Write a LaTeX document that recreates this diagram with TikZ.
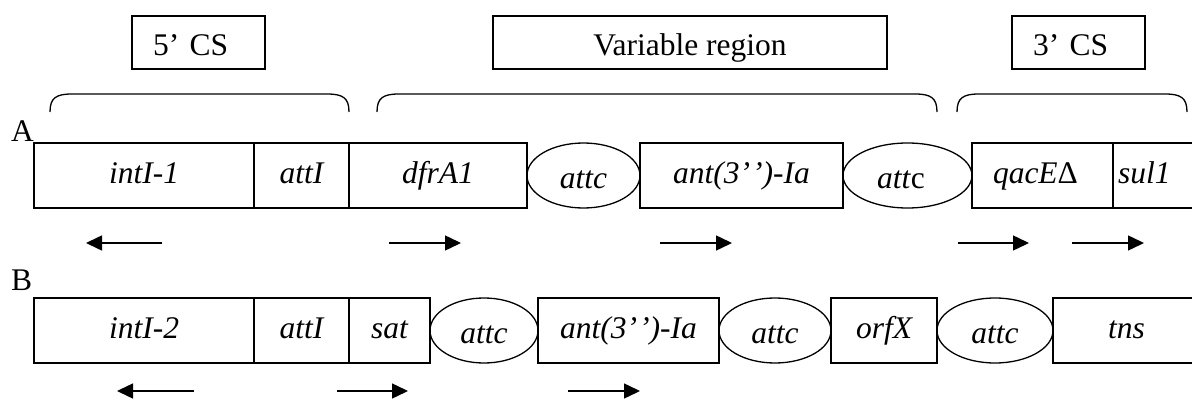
\documentclass[tikz,border=0pt]{standalone}
\usepackage{fontspec}
\setmainfont{Liberation Serif}
\usetikzlibrary{arrows.meta,shapes.geometric}
\tikzset{
  lbl/.style={font=\fontsize{31.5}{37}\selectfont},
  part/.style={draw, line width=1.3pt, inner sep=0pt, minimum height=65pt, text depth=0pt},
  gene/.style={part, rectangle, text height=15pt, font=\fontsize{31.5}{37}\selectfont\itshape},
  site/.style={part, ellipse, text height=26pt, font=\fontsize{31.5}{37}\selectfont\itshape},
  region/.style={lbl, draw, line width=1.3pt, rectangle, inner sep=0pt,
                 minimum height=53pt, text height=26pt, text depth=0pt},
  brace/.style={line width=1.3pt},
  dir/.style={line width=1.5pt, -{Triangle[length=16pt,width=15pt]}},
}
\begin{document}
\begin{tikzpicture}[x=1pt,y=-1pt]
\useasboundingbox (0,0) rectangle (1192,401);
\clip (0,0) rectangle (1192,401);

% segment headers
\node[region, inner xsep=21pt, text width=91pt, align=left] (cs5) at (198.5,42.5) {5’ CS};
\node[region, minimum width=394pt] (var) at (690,42.5) {Variable region};
\node[region, inner xsep=21pt, text width=91pt, align=left] (cs3) at (1078.5,42.5) {3’ CS};

% brackets spanning each segment
\foreach \l/\r in {50/349, 377/937, 957/1187}
  \draw[brace] (\l,112) .. controls (\l,98) and (\l+6,94) .. (\l+22,94)
    -- (\r-22,94) .. controls (\r-6,94) and (\r,98) .. (\r,112);

% row labels
\node[lbl, anchor=base west, inner sep=0pt] (labA) at (11,142) {A};
\node[lbl, anchor=base west, inner sep=0pt] (labB) at (11,290) {B};

% class 1 integron
\node[gene, minimum width=220pt] (intA) at (144,175.5) {intI-1};
\node[gene, minimum width=95pt] (attIA) at (301.5,175.5) {attI};
\node[gene, minimum width=178pt] (dfr) at (438,175.5) {dfrA1};
\node[site, minimum width=113pt] (attcA1) at (583.5,175.5) {attc};
\node[gene, minimum width=203pt] (antA) at (741.5,175.5) {ant(3’\kern2pt’)-Ia};
\node[site, minimum width=129pt, text width=61pt, align=left] (attcA2) at (907.5,175.5) {att\textup{c}};
\node[gene, inner xsep=21pt, text width=99pt, align=left] (qac) at (1042.5,175.5) {qacE{\upshape Δ}};
\node[gene, inner xsep=5pt, text width=77pt, align=left] (sul) at (1156.5,175.5) {sul1};

% class 2 integron
\node[gene, minimum width=220pt] (intB) at (144,330.5) {intI-2};
\node[gene, minimum width=95pt] (attIB) at (301.5,330.5) {attI};
\node[gene, minimum width=81pt] (sat) at (389.5,330.5) {sat};
\node[site, minimum width=108pt] (attcB1) at (484,330.5) {attc};
\node[gene, minimum width=181pt] (antB) at (628.5,330.5) {ant(3’\kern2pt’)-Ia};
\node[site, minimum width=112pt] (attcB2) at (775,330.5) {attc};
\node[gene, minimum width=106pt] (orf) at (884,330.5) {orfX};
\node[site, minimum width=116pt] (attcB3) at (995,330.5) {attc};
\node[gene, minimum width=147pt] (tns) at (1126.5,330.5) {tns};

% transcription directions
\draw[dir] (162,243) -- (86,243);
\draw[dir] (389,243) -- (461,243);
\draw[dir] (660,243) -- (732,243);
\draw[dir] (958,243) -- (1029,243);
\draw[dir] (1072,243) -- (1144,243);
\draw[dir] (194,391) -- (117,391);
\draw[dir] (337,391) -- (408,391);
\draw[dir] (568,391) -- (640,391);
\end{tikzpicture}
\end{document}
